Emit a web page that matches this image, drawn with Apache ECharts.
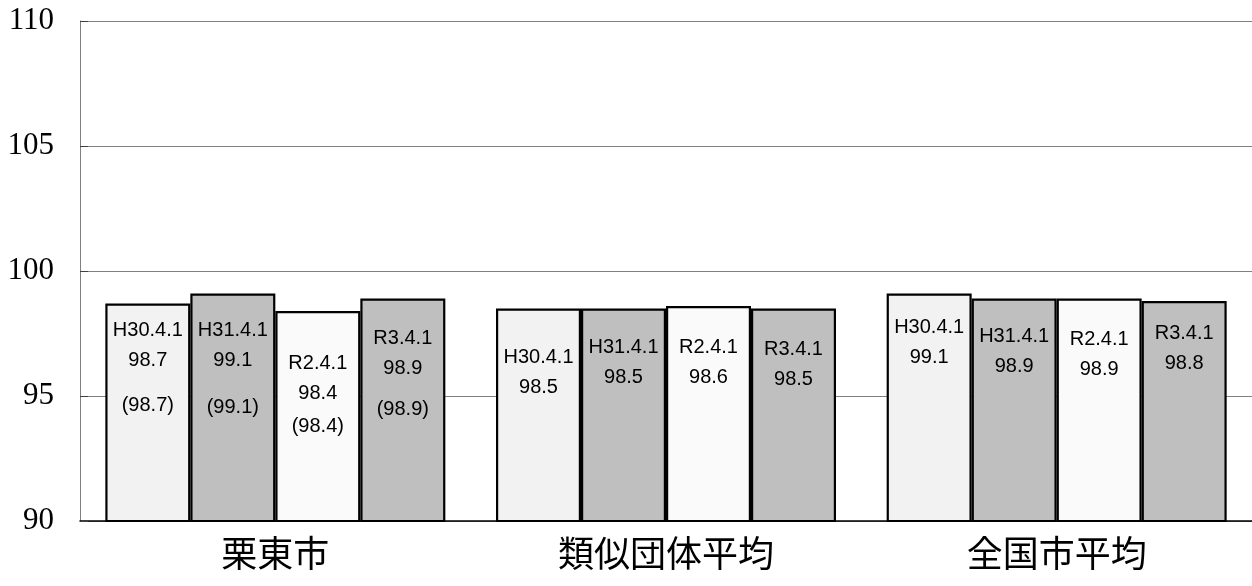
<!DOCTYPE html>
<html>
<head>
<meta charset="utf-8">
<script src="https://cdn.jsdelivr.net/npm/echarts@6/dist/echarts.min.js"></script>
<style>
  html, body { margin: 0; padding: 0; background: #ffffff; }
  #chart { width: 1252px; height: 586px; }
</style>
</head>
<body>
<div id="chart"></div>
<script>
// Categories along the x axis
const categories = ['栗東市', '類似団体平均', '全国市平均'];
// Survey dates (one series each)
const dates = ['H30.4.1', 'H31.4.1', 'R2.4.1', 'R3.4.1'];
// Index values per date, ordered by category
const valuesH30 = [98.7, 98.5, 99.1];
const valuesH31 = [99.1, 98.5, 98.9];
const valuesR2  = [98.4, 98.6, 98.9];
const valuesR3  = [98.9, 98.5, 98.8];
// Bracketed reference values shown for 栗東市 only (per date)
const refRitto = [98.7, 99.1, 98.4, 98.9];
// Y axis range
const yMin = 90, yMax = 110, yStep = 5;

const seriesValues = [valuesH30, valuesH31, valuesR2, valuesR3];
const barColors = ['#f2f2f2', '#bfbfbf', '#fafafa', '#bfbfbf'];

// Label placement inside each bar: distance from bar top to the first line's centre,
// and the gap between the value line and the bracketed line.
const firstLine = [
  [27, 49, 34],
  [37, 39, 38],
  [52, 41, 41],
  [40, 41, 32]
];
const thirdGap = [45, 47, 33, 41];
const lineH = 30;
const labelFont = 'Liberation Sans, Arial, sans-serif';

const series = dates.map((d, si) => ({
  name: d,
  type: 'bar',
  barWidth: 85,
  barGap: '0%',
  itemStyle: { color: barColors[si], borderColor: '#000000', borderWidth: 2.2 },
  data: seriesValues[si].map((v, ci) => {
    const hasRef = ci === 0;
    const h3 = 2 * (thirdGap[si] - lineH / 2);
    let text = '{a|' + d + '}\n{a|' + v.toFixed(1) + '}';
    if (hasRef) text += '\n{c|(' + refRitto[si].toFixed(1) + ')}';
    return {
      value: v,
      label: {
        show: true,
        position: ['50%', firstLine[si][ci] - lineH / 2],
        align: 'center',
        verticalAlign: 'top',
        formatter: text,
        rich: {
          a: { fontFamily: labelFont, fontSize: 20, color: '#000', lineHeight: lineH, align: 'center' },
          c: { fontFamily: labelFont, fontSize: 20, color: '#000', lineHeight: h3, align: 'center' }
        }
      }
    };
  })
}));

const chart = echarts.init(document.getElementById('chart'), null, { renderer: 'canvas' });
chart.setOption({
  animation: false,
  backgroundColor: '#ffffff',
  grid: { left: 80, right: 0, top: 21, bottom: 65 },
  xAxis: {
    type: 'category',
    data: categories,
    axisLine: { show: true, lineStyle: { color: '#000000', width: 1.5 } },
    axisTick: { show: false },
    axisLabel: {
      margin: 14,
      fontFamily: 'Noto Sans CJK JP',
      fontSize: 36,
      color: '#000000'
    }
  },
  yAxis: {
    type: 'value',
    min: yMin,
    max: yMax,
    interval: yStep,
    axisLine: { show: true, lineStyle: { color: '#808080', width: 1 } },
    axisTick: { show: true, inside: true, length: 8, lineStyle: { color: '#404040', width: 1 } },
    splitLine: { show: true, lineStyle: { color: '#808080', width: 1 } },
    axisLabel: {
      margin: 26,
      fontFamily: 'Liberation Serif, DejaVu Serif, serif',
      fontSize: 31,
      color: '#000000'
    }
  },
  series: series
});
</script>
</body>
</html>
